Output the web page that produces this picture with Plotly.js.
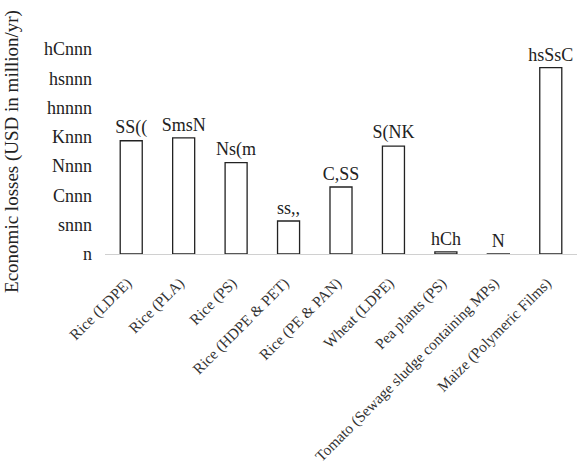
<!DOCTYPE html>
<html>
<head>
<meta charset="utf-8">
<script src="https://cdn.plot.ly/plotly-3.0.1.min.js"></script>
<style>html,body{margin:0;padding:0;background:#fff;}#chart{width:578px;height:465px;}</style>
</head>
<body>
<div id="chart"></div>
<script>
const categories = ["Rice (LDPE)", "Rice (PLA)", "Rice (PS)", "Rice (HDPE & PET)", "Rice (PE & PAN)", "Wheat (LDPE)", "Pea plants (PS)", "Tomato (Sewage sludge containing MPs)", "Maize (Polymeric Films)"];
const losses = [7733, 7926, 6239, 2255, 4577, 7368, 141, 6, 12724];
const tickValues = [0, 2000, 4000, 6000, 8000, 10000, 12000, 14000];
// glyphs used by the reference in place of digits 0-9
const digitGlyphs = ["n", "h", "s", "(", "C", ",", "N", "S", "K", "m"];
const enc = v => String(v).split("").map(d => digitGlyphs[+d]).join("");
const dataLabels = losses.map(enc);
const tickLabels = tickValues.map(enc);

const serif = "Liberation Serif, Times New Roman, serif";
Plotly.newPlot("chart", [{
  type: "bar",
  x: categories,
  y: losses,
  text: dataLabels,
  textposition: "outside",
  constraintext: "none",
  cliponaxis: false,
  textfont: {family: serif, size: 18, color: "#222"},
  marker: {color: "#ffffff", line: {color: "#222", width: 1.3}},
  hoverinfo: "none"
}], {
  width: 578, height: 465,
  margin: {l: 105, r: 1, t: 49, b: 211},
  paper_bgcolor: "#fff", plot_bgcolor: "#fff",
  bargap: 0.58,
  showlegend: false,
  font: {family: serif, color: "#222"},
  xaxis: {
    tickangle: -45, tickfont: {family: serif, size: 15.3, color: "#333"},
    ticklabelstandoff: 13, ticklabelshift: -4,
    showline: true, linecolor: "#d0d0d0", linewidth: 1, ticks: "", showgrid: false, zeroline: false
  },
  yaxis: {
    range: [0, 14000], tickvals: tickValues, ticktext: tickLabels,
    tickfont: {family: serif, size: 18, color: "#222"},
    showgrid: false, zeroline: false, showline: false, ticks: "", ticklabelstandoff: 12,
    title: {text: "Economic losses (USD in million/yr)", font: {family: serif, size: 19, color: "#222"}, standoff: 20}
  }
}, {staticPlot: true});
</script>
</body>
</html>
